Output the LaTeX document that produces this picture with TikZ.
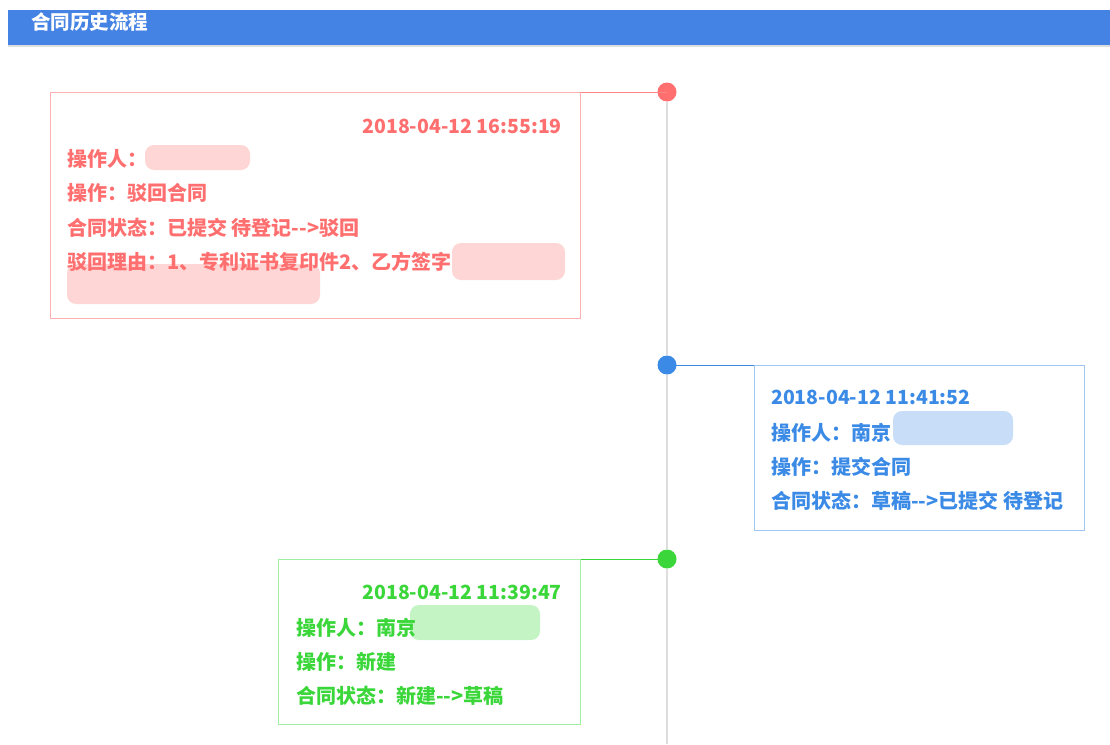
\documentclass[tikz,border=0pt]{standalone}
\usepackage{fontspec}
\newfontfamily\cjk{Noto Sans CJK SC}
\usetikzlibrary{positioning}
\definecolor{barblue}{RGB}{68,130,228}
\definecolor{redtxt}{RGB}{255,111,111}
\definecolor{redline}{RGB}{255,176,176}
\definecolor{redblur}{RGB}{255,214,214}
\definecolor{bluetxt}{RGB}{58,138,230}
\definecolor{blueline}{RGB}{160,198,242}
\definecolor{blueblur}{RGB}{200,221,248}
\definecolor{greentxt}{RGB}{58,214,58}
\definecolor{greenline}{RGB}{160,238,160}
\definecolor{greenblur}{RGB}{196,244,196}
\definecolor{axisgrey}{RGB}{221,221,221}

\begin{document}
\begin{tikzpicture}[x=1pt, y=-1pt,
    dot/.style = {circle, fill=#1, inner sep=0pt, minimum size=19pt},
    card/.style = {draw=#1, line width=1pt, inner sep=0pt, anchor=north west},
    info/.style = {anchor=base west, inner sep=0pt, text=#1, font=\cjk\bfseries\fontsize{20}{24}\selectfont},
    stamp/.style = {anchor=base east, inner sep=0pt, text=#1, font=\cjk\bfseries\fontsize{19.5}{24}\selectfont},
    blur/.style = {fill=#1, rounded corners=9pt}]
    \useasboundingbox (0,0) rectangle (1110,744);
    % header
    \fill[axisgrey] (8,45) rectangle (1110,47);
    \fill[barblue] (8,10) rectangle (1110,45);
    \node[anchor=base west, inner sep=0pt, text=white, font=\cjk\bfseries\fontsize{19.5}{24}\selectfont] (title) at (31,29.5) {合同历史流程};
    % timeline
    \coordinate (axend) at (667,744);
    \node[dot=redtxt] (d1) at (667,92) {};
    \node[dot=bluetxt] (d2) at (667,365) {};
    \node[dot=greentxt] (d3) at (667,559) {};
    \draw[axisgrey, line width=1.5pt] (d1.south) -- (d2.north);
    \draw[axisgrey, line width=1.5pt] (d2.south) -- (d3.north);
    \draw[axisgrey, line width=1.5pt] (d3.south) -- (axend);

    % record 1
    \node[card=redline, minimum width=530pt, minimum height=226pt] (c1) at (50,92) {};
    \draw[redtxt!85, line width=1pt] (d1.center) -- (c1.north east);
    \node[stamp=redtxt] (t1) at (562,133) {2018-04-12 16:55:19};
    \fill[blur=redblur] (145,145) rectangle (250,170);
    \fill[blur=redblur] (452,243) rectangle (565,280);
    \fill[blur=redblur] (67,264) rectangle (320,304);
    \node[info=redtxt] (r1a) at (67,166) {操作人：};
    \node[info=redtxt] (r1b) at (67,200) {操作：驳回合同};
    \node[info=redtxt] (r1c) at (67,235) {合同状态：已提交 待登记-->驳回};
    \node[info=redtxt] (r1d) at (67,269) {驳回理由：1、专利证书复印件2、乙方签字};

    % record 2
    \node[card=blueline, minimum width=330pt, minimum height=165pt] (c2) at (754,365) {};
    \draw[bluetxt, line width=1pt] (d2.center) -- (c2.north west);
    \node[stamp=bluetxt, anchor=base west] (t2) at (771,404) {2018-04-12 11:41:52};
    \fill[blur=blueblur] (893,411) rectangle (1013,445);
    \node[info=bluetxt] (r2a) at (771,440) {操作人：南京};
    \node[info=bluetxt] (r2b) at (771,474) {操作：提交合同};
    \node[info=bluetxt] (r2c) at (771,508) {合同状态：草稿-->已提交 待登记};

    % record 3
    \node[card=greenline, minimum width=302pt, minimum height=165pt] (c3) at (278,559) {};
    \draw[greentxt, line width=1pt] (d3.center) -- (c3.north east);
    \node[stamp=greentxt] (t3) at (562,599) {2018-04-12 11:39:47};
    \fill[blur=greenblur] (410,605) rectangle (540,640);
    \node[info=greentxt] (r3a) at (296,635) {操作人：南京};
    \node[info=greentxt] (r3b) at (296,669) {操作：新建};
    \node[info=greentxt] (r3c) at (296,703) {合同状态：新建-->草稿};
\end{tikzpicture}
\end{document}
